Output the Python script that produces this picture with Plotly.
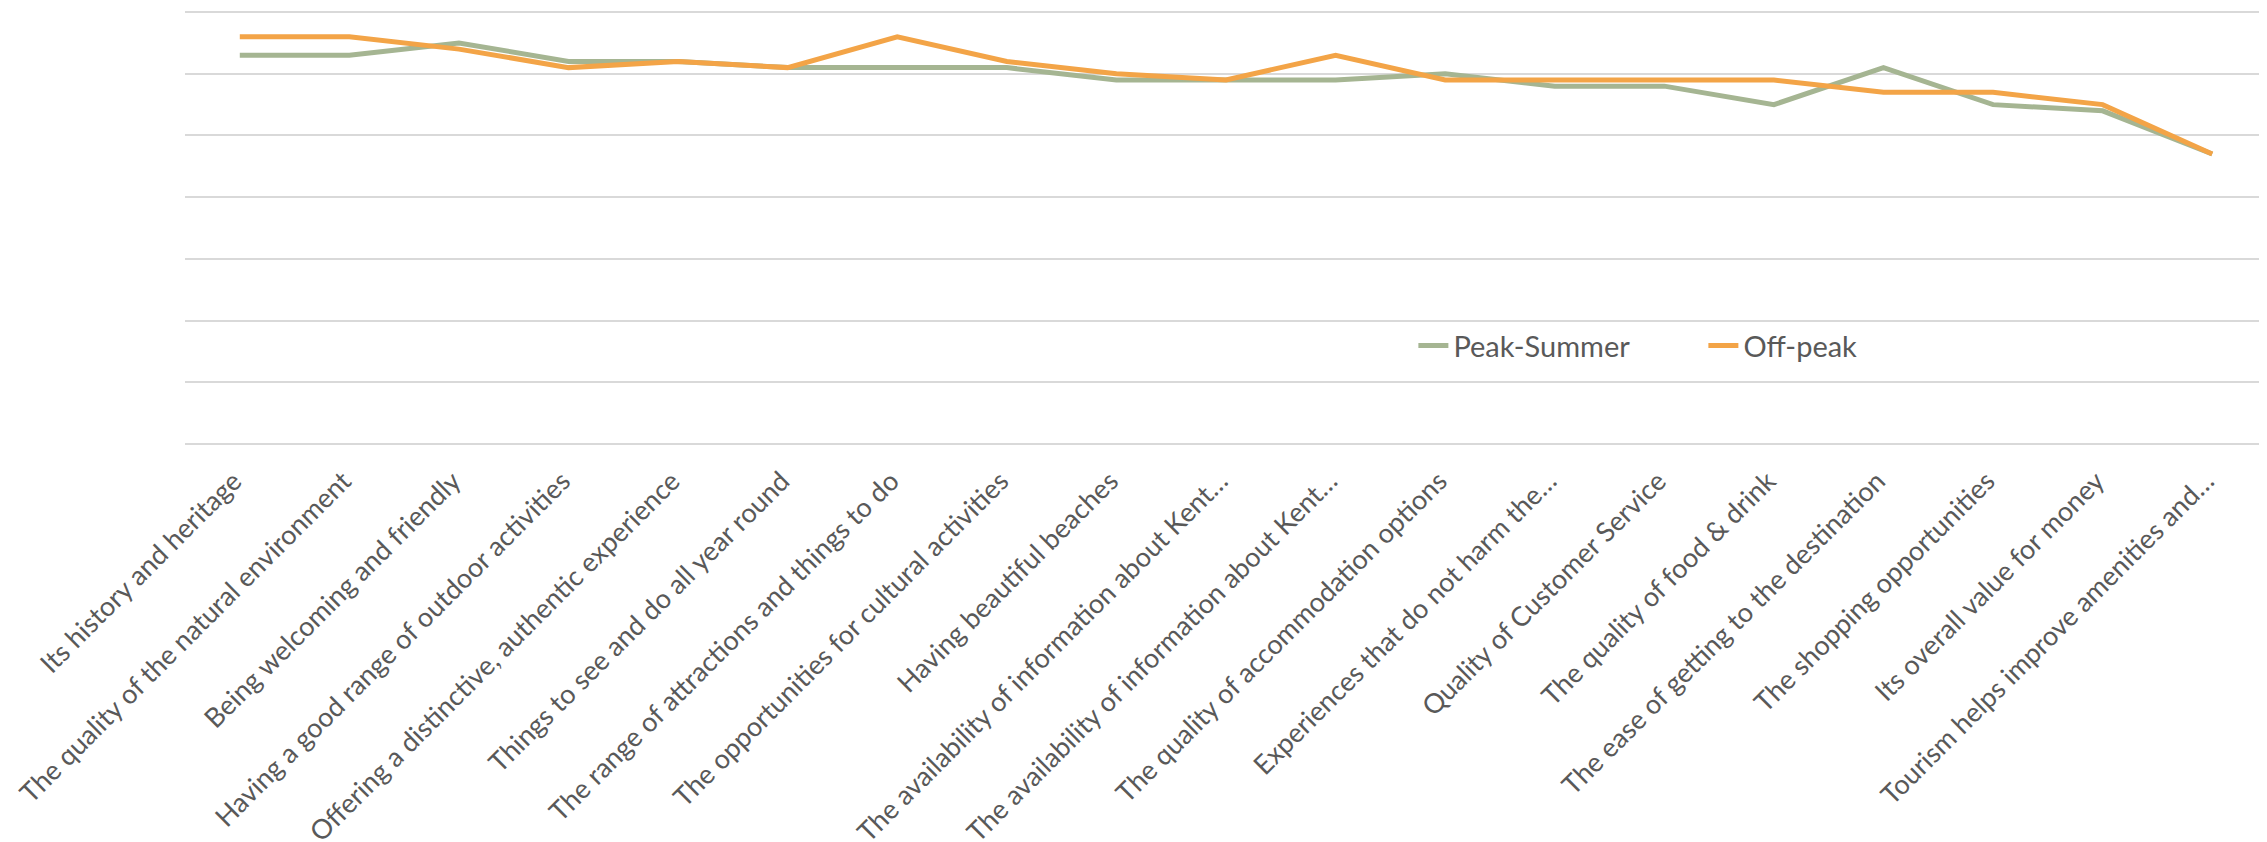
import plotly.graph_objects as go

categories = [
    "Its history and heritage",
    "The quality of the natural environment",
    "Being welcoming and friendly",
    "Having a good range of outdoor activities",
    "Offering a distinctive, authentic experience",
    "Things to see and do all year round",
    "The range of attractions and things to do",
    "The opportunities for cultural activities",
    "Having beautiful beaches",
    "The availability of information about Kent…",
    "The availability of information about Kent…",
    "The quality of accommodation options",
    "Experiences that do not harm the…",
    "Quality of Customer Service",
    "The quality of food & drink",
    "The ease of getting to the destination",
    "The shopping opportunities",
    "Its overall value for money",
    "Tourism helps improve amenities and…",
]
peak_summer = [6.3, 6.3, 6.5, 6.2, 6.2, 6.1, 6.1, 6.1, 5.9, 5.9, 5.9, 6.0, 5.8, 5.8, 5.5, 6.1, 5.5, 5.4, 4.7]
off_peak = [6.6, 6.6, 6.4, 6.1, 6.2, 6.1, 6.6, 6.2, 6.0, 5.9, 6.3, 5.9, 5.9, 5.9, 5.9, 5.7, 5.7, 5.5, 4.7]

x_idx = list(range(len(categories)))

fig = go.Figure()
fig.add_trace(go.Scatter(x=x_idx, y=peak_summer, mode="lines", name="Peak-Summer",
                         line=dict(color="#A5B592", width=5)))
fig.add_trace(go.Scatter(x=x_idx, y=off_peak, mode="lines", name="Off-peak",
                         line=dict(color="#F3A447", width=5)))

fig.update_layout(
    width=2259, height=834,
    margin=dict(l=177, r=0, t=1, b=398, autoexpand=False),
    paper_bgcolor="white", plot_bgcolor="white",
    font=dict(family="Lato, Open Sans, sans-serif", color="#595959", size=27),
    showlegend=True,
    legend=dict(orientation="h", x=0.59, y=0.226, xanchor="left", yanchor="middle",
                font=dict(size=29, color="#595959"), bgcolor="rgba(0,0,0,0)",
                entrywidth=245, entrywidthmode="pixels"),
    xaxis=dict(tickmode="array", tickvals=x_idx, ticktext=categories, tickangle=-45,
               range=[-0.5, len(categories) - 0.5], showgrid=False, showline=False,
               zeroline=False, ticks="", automargin=False,
               ticklabelshift=-6, ticklabelstandoff=15,
               tickfont=dict(size=27, color="#595959")),
    yaxis=dict(range=[0, 7.05], tickmode="linear", tick0=0, dtick=1,
               showticklabels=False, showgrid=True,
               gridcolor="#D9D9D9", gridwidth=1.5, zeroline=True,
               zerolinecolor="#D9D9D9", zerolinewidth=1.5, showline=False,
               ticks="", automargin=False),
)

fig.write_html("out.html")
